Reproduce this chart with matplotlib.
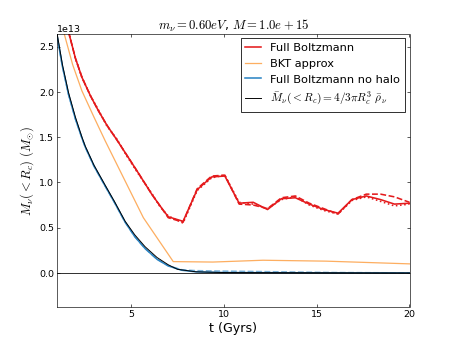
import numpy as np
import matplotlib
matplotlib.use("Agg")
import matplotlib.pyplot as plt

plt.rcParams['mathtext.fontset'] = 'cm'
plt.rcParams['font.size'] = 12
plt.rcParams['xtick.direction'] = 'in'
plt.rcParams['ytick.direction'] = 'in'
plt.rcParams['xtick.top'] = True
plt.rcParams['ytick.right'] = True
plt.rcParams['xtick.major.size'] = 4
plt.rcParams['ytick.major.size'] = 4

scale = 1e13

# Full Boltzmann (solid, dashed and dotted variants)
t_fb = [1.0, 1.3, 1.67, 2.0, 2.35, 2.8, 3.24, 3.7, 4.23, 4.77, 5.4, 6.11, 6.56, 7.0, 7.8,
        8.56, 9.34, 10.05, 10.82, 11.58, 12.35, 13.1, 13.85, 14.6, 15.38, 16.15, 16.9,
        17.67, 18.44, 19.19, 20.0]
m_fb = [3.4, 2.98, 2.63, 2.37, 2.16, 1.96, 1.79, 1.63, 1.47, 1.30, 1.10, 0.87, 0.74, 0.62, 0.57,
        0.92, 1.06, 1.07, 0.77, 0.78, 0.70, 0.82, 0.83, 0.76, 0.70, 0.66, 0.81,
        0.85, 0.81, 0.76, 0.77]
m_fb_dash = [3.4, 2.98, 2.63, 2.37, 2.16, 1.96, 1.79, 1.63, 1.47, 1.30, 1.10, 0.87, 0.74, 0.61, 0.56,
             0.93, 1.07, 1.08, 0.76, 0.75, 0.71, 0.83, 0.85, 0.77, 0.71, 0.65, 0.81,
             0.87, 0.87, 0.84, 0.78]
m_fb_dot = [3.4, 2.98, 2.63, 2.37, 2.16, 1.96, 1.80, 1.62, 1.48, 1.29, 1.09, 0.88, 0.73, 0.63, 0.55,
            0.91, 1.05, 1.08, 0.78, 0.76, 0.71, 0.81, 0.84, 0.75, 0.69, 0.65, 0.80,
            0.84, 0.79, 0.74, 0.76]

# BKT approximation
t_bkt = [1.0, 1.41, 1.85, 2.35, 3.0, 3.6, 5.66, 7.27, 9.4, 12.1, 15.5, 20.0]
m_bkt = [3.0, 2.63, 2.3, 2.01, 1.72, 1.46, 0.61, 0.125, 0.12, 0.14, 0.13, 0.10]

# Full Boltzmann no halo
t_nh = [1.0, 1.3, 1.63, 2.0, 2.35, 2.53, 3.0, 3.6, 4.1, 4.68, 5.2, 5.75, 6.4, 7.0, 7.72,
        8.5, 10.0, 13.0, 16.0, 20.0]
m_nh = [2.63, 2.28, 1.97, 1.70, 1.49, 1.39, 1.18, 0.96, 0.78, 0.56, 0.40, 0.27, 0.15, 0.077, 0.03,
        0.012, 0.004, 0.002, 0.0, 0.0]
m_nh_dash = [2.63, 2.28, 1.97, 1.70, 1.49, 1.39, 1.18, 0.96, 0.78, 0.56, 0.40, 0.27, 0.15, 0.08, 0.035,
             0.025, 0.02, 0.012, 0.004, 0.0]

# mean background mass
t_bg = [1.0, 1.3, 1.63, 2.0, 2.35, 2.53, 3.0, 3.6, 4.1, 4.68, 5.2, 5.75, 6.4, 7.0, 7.5,
        8.5, 10.0, 20.0]
m_bg = [2.66, 2.30, 1.99, 1.72, 1.50, 1.40, 1.19, 0.97, 0.79, 0.57, 0.42, 0.29, 0.17, 0.09, 0.04,
        0.012, 0.004, 0.0]

red = '#e41a1c'
orange = '#fdae61'
blue = '#2c85c4'

fig = plt.figure(figsize=(8, 6), dpi=56.875)
ax = fig.add_axes([0.125, 0.1, 0.775, 0.8])

ax.plot(t_fb, np.array(m_fb) * scale, color=red, lw=2, label='Full Boltzmann')
ax.plot(t_fb, np.array(m_fb_dash) * scale, color=red, lw=2, ls='--')
ax.plot(t_fb, np.array(m_fb_dot) * scale, color=red, lw=2, ls=':')
ax.plot(t_bkt, np.array(m_bkt) * scale, color=orange, lw=1.6, label='BKT approx')
ax.plot(t_nh, np.array(m_nh) * scale, color=blue, lw=2, label='Full Boltzmann no halo')
ax.plot(t_nh, np.array(m_nh_dash) * scale, color=blue, lw=2, ls='--', alpha=0.6)
ax.plot(t_bg, np.array(m_bg) * scale, color='k', lw=1.2,
        label=r'$\bar{M}_{\nu}(<R_c)=4/3\pi R_c^3\ \bar{\rho}_{\nu}$')
ax.axhline(0, color='k', lw=1)

ax.set_xlim(1, 20)
ax.set_ylim(-0.375 * scale, 2.64 * scale)
ax.set_xticks([5, 10, 15, 20])
ax.set_yticks([0, 0.5e13, 1.0e13, 1.5e13, 2.0e13, 2.5e13])

ax.set_title(r'$m_{\nu}=0.60eV$, $M=1.0e+15$', fontsize=16)
ax.set_xlabel('t (Gyrs)', fontsize=16)
ax.set_ylabel(r'$M_{\nu}(<R_c)\ (M_{\odot})$', fontsize=16)

leg = ax.legend(loc='upper right', fontsize=14.4, handlelength=1.4, fancybox=False,
                framealpha=1, borderaxespad=0.4)
leg.get_frame().set_edgecolor('k')

fig.savefig('out.png', dpi=56.875)
